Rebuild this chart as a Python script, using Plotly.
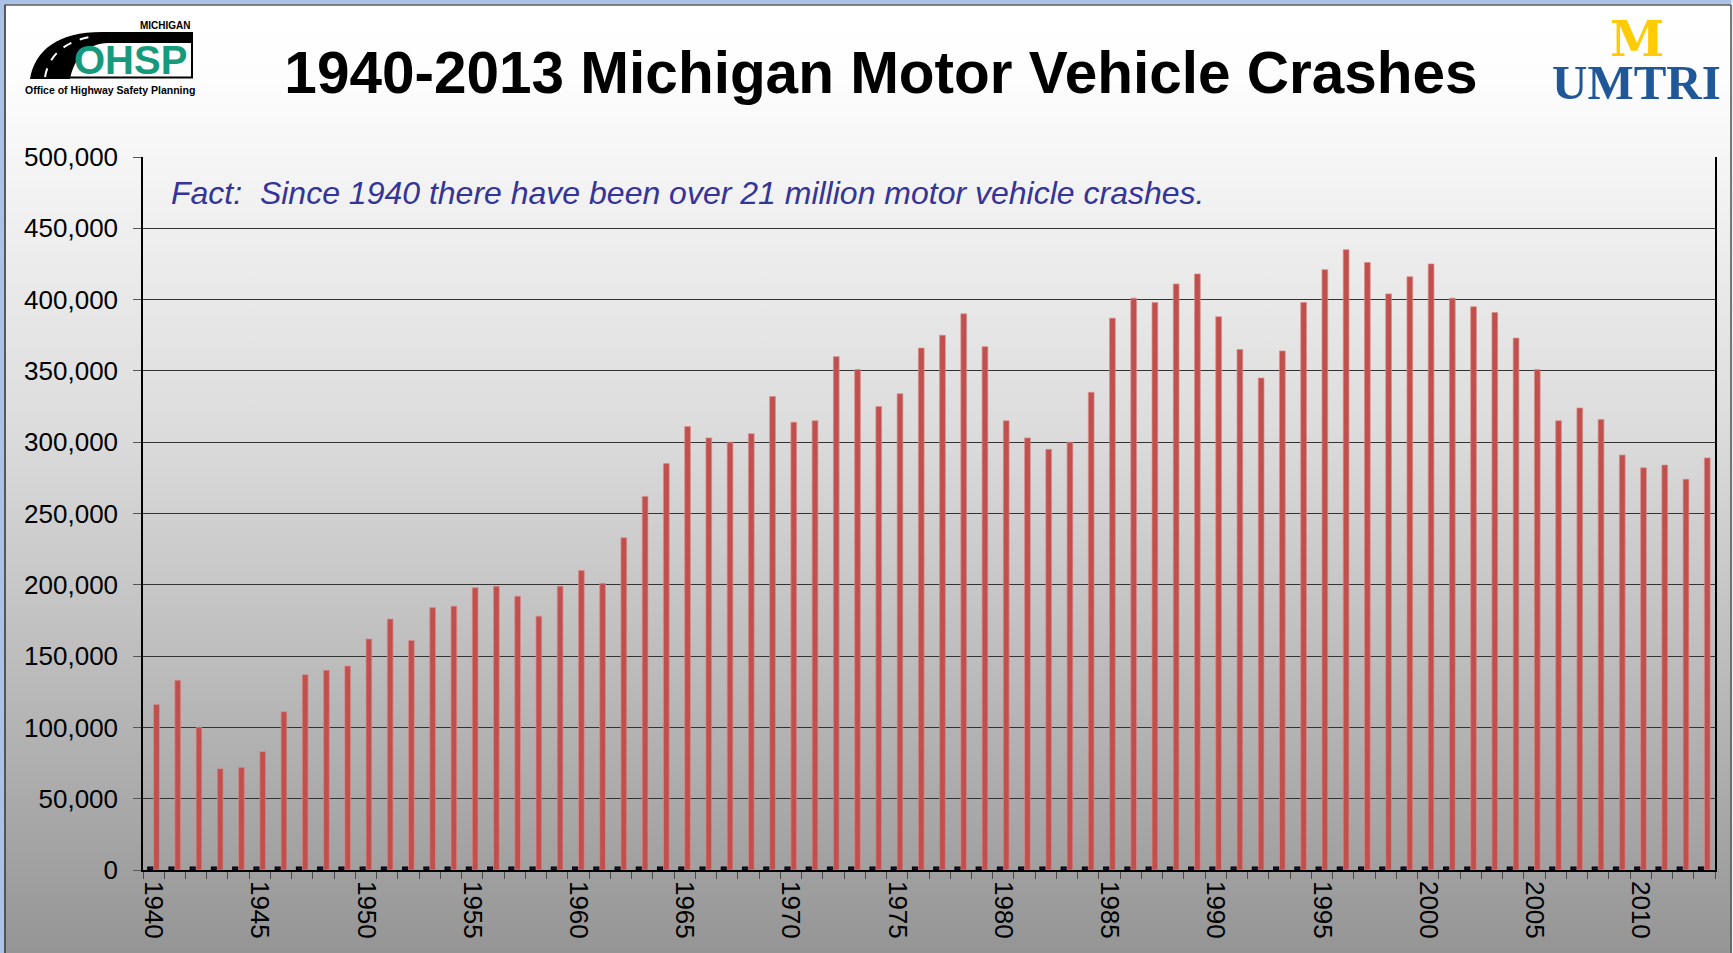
import base64
import plotly.graph_objects as go

# ---------------- data ----------------
years = list(range(1940, 2014))
crashes = [
    116000, 133000, 100000, 71000, 72000, 83000, 111000, 137000, 140000, 143000,
    162000, 176000, 161000, 184000, 185000, 198000, 199000, 192000, 178000, 199000,
    210000, 201000, 233000, 262000, 285000, 311000, 303000, 300000, 306000, 332000,
    314000, 315000, 360000, 351000, 325000, 334000, 366000, 375000, 390000, 367000,
    315000, 303000, 295000, 300000, 335000, 387000, 401000, 398000, 411000, 418000,
    388000, 365000, 345000, 364000, 398000, 421000, 435000, 426000, 404000, 416000,
    425000, 401000, 395000, 391000, 373000, 351000, 315000, 324000, 316000, 291000,
    282000, 284000, 274000, 289000,
]
# small companion series drawn as tiny dark squares on the baseline
companion = [
    2000, 2000, 2000, 2000, 2000, 2000, 2000, 2000, 2000, 2000,
    2000, 2000, 2000, 2000, 2000, 2000, 2000, 2000, 2000, 2000,
    2000, 2000, 2000, 2000, 2000, 2000, 2000, 2000, 2000, 2000,
    2000, 2000, 2000, 2000, 2000, 2000, 2000, 2000, 2000, 2000,
    2000, 2000, 2000, 2000, 2000, 2000, 2000, 2000, 2000, 2000,
    2000, 2000, 2000, 2000, 2000, 2000, 2000, 2000, 2000, 2000,
    2000, 2000, 2000, 2000, 2000, 2000, 2000, 2000, 2000, 2000,
    2000, 2000, 2000, 2000,
]
label_years = [1940, 1945, 1950, 1955, 1960, 1965, 1970, 1975, 1980, 1985,
               1990, 1995, 2000, 2005, 2010]
y_ticks = [0, 50000, 100000, 150000, 200000, 250000, 300000, 350000, 400000,
           450000, 500000]

title_text = "1940-2013 Michigan Motor Vehicle Crashes"
fact_text = "Fact:  Since 1940 there have been over 21 million motor vehicle crashes."

# ---------------- geometry helpers ----------------
W, H = 1733, 953
L, R, T, B = 143, 18, 157, 83
PW, PH = W - L - R, H - T - B


def px(x):
    return (x - L) / PW


def py(y):
    return 1 - (y - T) / PH


def path(cmds):
    out = []
    for c in cmds:
        if isinstance(c, str):
            out.append(c)
        else:
            out.append(f"{px(c[0]):.5f},{py(c[1]):.5f}")
    return " ".join(out)


FONT = "Arial, Liberation Sans, sans-serif"

# ---------------- background (gradient + slide frame) ----------------
svg = f"""<svg xmlns="http://www.w3.org/2000/svg" width="{W}" height="{H}" viewBox="0 0 {W} {H}" preserveAspectRatio="none">
<defs><linearGradient id="g" x1="0" y1="0" x2="0" y2="1">
<stop offset="0" stop-color="#ffffff"/>
<stop offset="0.08" stop-color="#fdfdfd"/>
<stop offset="0.45" stop-color="#dcdcdc"/>
<stop offset="1" stop-color="#959595"/>
</linearGradient></defs>
<rect x="0" y="0" width="{W}" height="{H}" fill="url(#g)"/>
<rect x="0" y="0" width="{W}" height="4.5" fill="#abc2e8"/>
<rect x="0" y="0" width="4.5" height="{H}" fill="#abc2e8"/>
<rect x="1731.5" y="0" width="2" height="{H}" fill="#e8eef8"/>
<line x1="4.5" y1="5" x2="1731" y2="5" stroke="#5a5a5a" stroke-width="1.6"/>
<line x1="5" y1="5" x2="5" y2="{H}" stroke="#4a4a4a" stroke-width="1.8"/>
<line x1="1731" y1="5" x2="1731" y2="{H}" stroke="#5a5a5a" stroke-width="1.6"/>
</svg>"""
bg_src = "data:image/svg+xml;base64," + base64.b64encode(svg.encode()).decode()

fig = go.Figure()
fig.add_trace(go.Bar(
    x=years, y=companion, name="companion",
    marker=dict(color="#1c1c48", line=dict(color="#000000", width=1.5)),
))
fig.add_trace(go.Bar(
    x=years, y=crashes, name="Crashes",
    marker=dict(color="#C0504D", line=dict(color="#D98C8A", width=0.7)),
))

shapes = [
    # OHSP logo: road swoosh
    dict(type="path", xref="paper", yref="paper",
         path=path(["M", (30, 79), "C", (35, 50), (58, 32), (102, 32), "L", (193, 32),
                    "L", (193, 43), "L", (108, 43), "C", (88, 43), (74, 58), (70, 79), "Z"]),
         fillcolor="#000000", line=dict(width=0)),
    # lane markings
    dict(type="path", xref="paper", yref="paper",
         path=path(["M", (45, 77), "C", (48, 58), (62, 42), (90, 37)]),
         line=dict(color="#ffffff", width=2, dash="dash")),
    # box outline
    dict(type="path", xref="paper", yref="paper",
         path=path(["M", (70, 77.5), "L", (192, 77.5), "L", (192, 43)]),
         line=dict(color="#000000", width=2)),
]

annotations = [
    dict(text=fact_text, xref="paper", yref="paper", x=px(169), y=py(193),
         xanchor="left", yanchor="middle", showarrow=False,
         font=dict(family=FONT, size=32, color="#343499", style="italic")),
    dict(text="<b>MICHIGAN</b>", xref="paper", yref="paper", x=px(193), y=py(26),
         xanchor="right", yanchor="middle", showarrow=False,
         font=dict(family=FONT, size=10, color="#000000")),
    dict(text="<b>OHSP</b>", xref="paper", yref="paper", x=px(130), y=py(60),
         xanchor="center", yanchor="middle", showarrow=False,
         font=dict(family=FONT, size=40, color="#179a7c")),
    dict(text="<b>Office of Highway Safety Planning</b>", xref="paper", yref="paper",
         x=px(110), y=py(90), xanchor="center", yanchor="middle", showarrow=False,
         font=dict(family=FONT, size=10.5, color="#000000")),
    dict(text="<b>M</b>", xref="paper", yref="paper", x=px(1637), y=py(39),
         xanchor="center", yanchor="middle", showarrow=False,
         font=dict(family="DejaVu Serif, serif", size=49, color="#FFCB05")),
    dict(text="<b>UMTRI</b>", xref="paper", yref="paper", x=px(1636), y=py(83),
         xanchor="center", yanchor="middle", showarrow=False,
         font=dict(family="Liberation Serif, Times New Roman, serif", size=49, color="#1f5798")),
]

fig.update_layout(
    width=W, height=H,
    margin=dict(l=L, r=R, t=T, b=B, pad=0, autoexpand=False),
    paper_bgcolor="#ffffff",
    plot_bgcolor="rgba(0,0,0,0)",
    showlegend=False,
    barmode="group", bargap=0.46, bargroupgap=0,
    title=dict(text="<b>" + title_text + "</b>", x=881 / W, y=1 - 73 / H,
               xanchor="center", yanchor="middle", xref="container", yref="container",
               font=dict(family=FONT, size=58.5, color="#000000")),
    images=[dict(source=bg_src, xref="paper", yref="paper", x=px(0), y=py(0),
                 sizex=W / PW, sizey=H / PH, xanchor="left", yanchor="top",
                 sizing="stretch", layer="below")],
    shapes=shapes,
    annotations=annotations,
    xaxis=dict(
        range=[1939.5, 2013.5],
        tickmode="array", tickvals=label_years, ticktext=[str(v) for v in label_years],
        tickangle=90, tickfont=dict(family=FONT, size=26, color="#000000"),
        ticks="outside", ticklen=4, tickcolor="rgba(0,0,0,0)",
        minor=dict(tickmode="linear", tick0=1939.5, dtick=1, ticks="outside",
                   ticklen=7, tickwidth=1, tickcolor="#4a4a4a", showgrid=False),
        showgrid=False, zeroline=False,
        showline=True, linecolor="#000000", linewidth=1.5,
    ),
    yaxis=dict(
        range=[0, 500000], tickmode="array", tickvals=y_ticks,
        tickformat=",", tickfont=dict(family=FONT, size=26, color="#000000"),
        ticks="outside", ticklen=8, tickcolor="#555555", ticklabelstandoff=10,
        showgrid=True, gridcolor="#333333", gridwidth=1.2,
        zeroline=False, showline=True, linecolor="#000000", linewidth=1.5,
        mirror=True,
    ),
)

fig.write_html(
    "out.html",
    config={"displayModeBar": False},
    post_script="document.body.style.margin='0px';document.body.style.overflow='hidden';",
)
